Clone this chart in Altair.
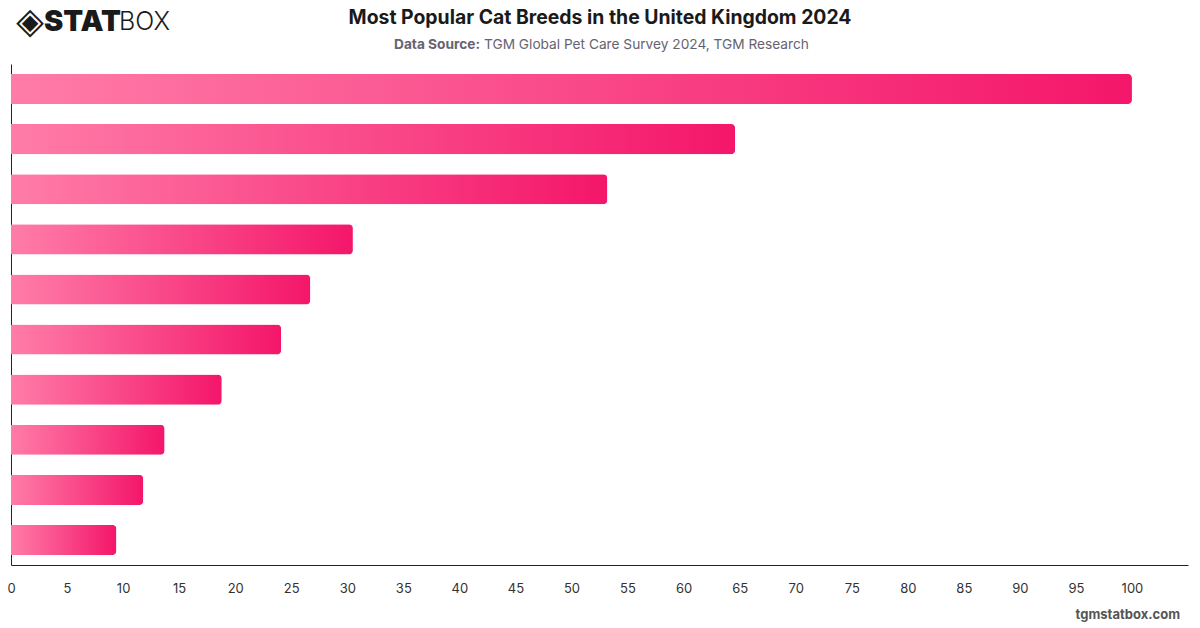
import altair as alt
import pandas as pd

# Ranked popularity index of cat breeds (top breed = 100)
ranks = [1, 2, 3, 4, 5, 6, 7, 8, 9, 10]
index_values = [100, 64.6, 53.2, 30.5, 26.7, 24.1, 18.8, 13.7, 11.8, 9.4]
x_ticks = list(range(0, 101, 5))

title_text = "Most Popular Cat Breeds in the United Kingdom 2024"
source_label = "Data Source:"
source_text = "TGM Global Pet Care Survey 2024, TGM Research"
footer_text = "tgmstatbox.com"

bars_df = pd.DataFrame({"rank": ranks, "value": index_values})

W, H = 1177, 501
FONT = "Inter"

pink_gradient = alt.Gradient(
    gradient="linear",
    stops=[
        alt.GradientStop(color="#FF7CA8", offset=0),
        alt.GradientStop(color="#F4166A", offset=1),
    ],
    x1=0, x2=1, y1=0, y2=0,
)

bars = alt.Chart(bars_df).mark_bar(
    color=pink_gradient, cornerRadiusEnd=4
).encode(
    x=alt.X(
        "value:Q",
        scale=alt.Scale(domain=[0, 105], nice=False),
        axis=alt.Axis(
            values=x_ticks, title=None, grid=False, ticks=False,
            labelPadding=17, labelFontSize=13, labelColor="#333333",
            labelFont=FONT, domainColor="#222222", domainWidth=1,
            labelFlush=False,
        ),
    ),
    y=alt.Y(
        "rank:O",
        sort="ascending",
        scale=alt.Scale(paddingInner=0.4, paddingOuter=0.2),
        axis=alt.Axis(
            title=None, labels=False, ticks=False, grid=False,
            domainColor="#222222", domainWidth=1,
        ),
    ),
    tooltip=["rank:O", "value:Q"],
)


def label(text, x, y, size, weight="normal", color="#222222", align="left",
          font=FONT, baseline="middle"):
    return alt.Chart(pd.DataFrame({"t": [text]})).mark_text(
        font=font, fontSize=size, fontWeight=weight, color=color,
        align=align, baseline=baseline,
    ).encode(text="t:N", x=alt.value(x), y=alt.value(y))


# Header: brand mark, title and source line
logo_icon = label("◈", 19, -42, 36, weight="bold", color="#1a1a1a",
                  font="DejaVu Sans", align="center")
logo_stat = label("STAT", 33, -42, 29, weight=900, color="#1a1a1a")
logo_box = label("BOX", 108, -42, 25, weight=300, color="#1a1a1a")
title = label(title_text, 589, -46, 19.4, weight="bold", color="#1a1a1a", align="center")
source_a = label(source_label, 469, -19, 13.7, weight="bold", color="#666370", align="right")
source_b = label(source_text, 473, -19, 13.7, color="#666370")
footer = label(footer_text, 1169, 551, 13, weight="bold", color="#555555", align="right")

chart = alt.layer(
    bars, logo_icon, logo_stat, logo_box, title, source_a, source_b, footer
).properties(
    width=W,
    height=H,
    autosize=alt.AutoSizeParams(type="none"),
    padding={"left": 11, "top": 64, "right": 12, "bottom": 63},
    background="white",
).configure_view(stroke=None)

chart.save("out.html", embed_options={"renderer": "svg", "actions": False})
